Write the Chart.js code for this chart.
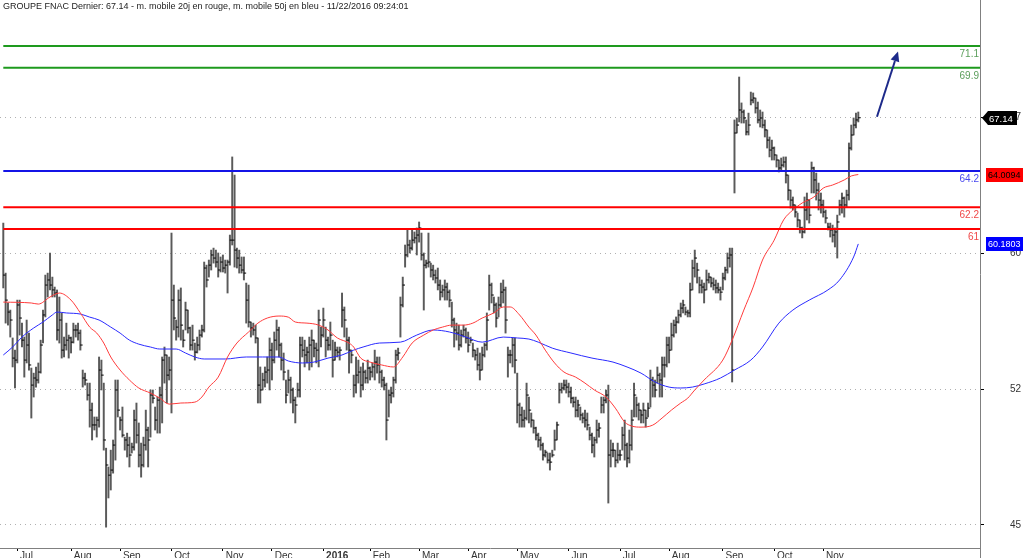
<!DOCTYPE html>
<html>
<head>
<meta charset="utf-8">
<script src="https://cdn.jsdelivr.net/npm/chart.js@4.4.0/dist/chart.umd.min.js"></script>
<style>
  html, body { margin: 0; padding: 0; background: #fff; }
  #wrap { width: 1024px; height: 558px; }
</style>
</head>
<body>
<div id="wrap"><canvas id="myChart" width="1024" height="558"></canvas></div>
<script>
// GROUPE FNAC daily bars, 23 Jun 2015 -> 22 Nov 2016 (x = trading day index)
const highs = [
  61.33,58.57,56.92,56.53,54.99,54.32,57.08,57.08,55.81,55.04,
  55.98,55.26,53.33,53.05,53.39,53.61,54.87,56.53,58.46,58.57,
  59.68,58.35,57.80,57.64,57.25,56.37,55.04,55.81,55.15,55.04,
  55.81,55.70,55.81,55.43,53.22,53.05,52.50,52.50,51.40,50.63,
  50.63,53.94,53.77,52.50,48.91,47.87,48.80,49.36,52.67,52.67,
  50.63,51.18,49.52,49.74,49.52,49.19,51.01,51.40,50.30,49.19,
  49.52,51.01,50.07,52.12,52.12,51.18,51.73,52.28,53.94,54.49,
  54.05,53.94,60.78,57.91,55.98,57.64,
  57.75,55.43,56.97,56.53,55.59,55.70,54.71,55.04,55.43,55.70,
  59.18,59.01,59.29,59.84,59.95,59.84,59.68,59.46,59.57,59.29,
  59.29,60.67,64.98,63.98,59.95,59.84,59.46,59.46,58.02,57.91,
  55.87,55.81,55.70,54.99,53.39,53.05,53.39,53.94,54.99,54.71,
  55.32,55.98,55.59,54.71,54.16,52.67,53.22,52.83,52.23,51.73,
  52.50,55.04,55.04,54.87,54.49,55.04,55.43,54.87,54.71,56.53,
  55.59,56.64,55.59,55.04,55.87,54.87,54.76,54.49,54.49,57.47,
  56.70,55.54,55.04,54.32,52.94,
  53.94,53.77,53.39,53.61,53.22,53.77,53.39,53.61,54.32,53.94,
  53.94,53.22,52.83,52.50,52.12,52.28,52.83,54.32,54.43,57.25,
  58.35,60.12,60.95,60.39,60.95,60.84,61.06,61.39,60.78,59.68,
  59.29,60.78,59.12,59.01,58.74,58.85,58.19,57.91,58.19,58.02,
  57.64,56.97,56.09,55.81,55.70,55.43,55.70,55.54,55.32,55.04,
  54.71,54.32,54.43,54.16,54.49,54.71,56.37,58.46,58.02,57.25,
  56.92,57.25,58.02,58.19,57.80,54.49,54.32,54.99,54.99,53.05,
  51.40,51.18,51.01,52.50,51.73,
  50.85,50.46,50.07,49.74,49.52,49.19,48.80,48.64,48.64,48.80,
  49.91,50.35,52.50,52.50,52.67,52.67,52.50,52.28,51.73,51.73,
  51.56,51.18,50.85,51.01,50.85,50.07,49.74,49.52,50.46,50.30,
  51.73,51.73,52.12,52.39,49.36,49.19,48.80,49.19,48.80,50.07,
  50.46,49.19,49.91,51.01,52.50,51.73,51.40,51.01,51.40,51.01,
  51.40,53.22,52.83,52.67,53.39,53.05,53.94,53.94,55.04,55.04,
  55.81,55.98,56.15,56.53,56.92,57.08,56.70,56.53,58.02,59.29,
  59.84,59.12,58.35,58.19,58.02,
  58.74,58.57,58.35,58.30,58.19,58.02,57.80,58.57,58.90,59.68,
  59.95,59.95,67.02,67.13,69.39,67.96,67.57,67.02,67.40,68.56,
  68.51,68.23,68.01,67.57,67.46,67.02,66.47,66.08,65.91,65.53,
  65.09,64.81,64.92,64.98,64.98,63.98,63.15,62.77,62.33,61.88,
  61.50,61.11,62.77,62.99,62.60,64.70,64.42,64.09,63.54,62.99,
  62.60,62.05,61.33,61.33,61.22,61.06,61.77,62.60,62.99,62.77,
  63.15,65.75,66.74,67.13,67.40,67.46
];
const lows = [
  57.75,55.81,55.70,55.04,53.39,52.23,53.61,55.15,54.49,52.83,
  53.61,53.22,50.57,51.73,52.28,52.50,53.05,54.71,56.15,57.25,
  57.64,57.25,57.25,54.87,54.71,53.88,53.94,54.32,53.88,54.16,
  54.71,55.04,54.87,54.32,52.28,52.39,51.56,50.07,49.36,49.91,
  49.52,50.07,52.12,48.80,44.55,46.16,46.60,47.53,48.25,50.63,
  49.91,49.52,48.80,48.42,47.87,48.64,48.80,49.19,47.87,47.31,
  47.87,48.80,47.87,49.52,51.40,49.91,49.74,49.74,50.30,52.50,
  51.40,52.67,50.85,55.43,54.87,55.04,
  54.87,54.49,55.43,55.26,54.32,54.32,53.77,54.16,54.32,55.04,
  55.32,57.80,58.35,58.74,59.12,58.90,58.35,58.63,58.63,58.57,
  57.47,59.01,60.12,58.90,58.85,58.57,58.57,58.19,55.81,55.59,
  55.04,55.15,54.71,51.40,51.40,52.12,52.28,52.50,52.12,52.67,
  53.61,54.32,53.94,53.22,52.67,51.40,51.95,51.40,50.85,50.30,
  51.73,51.73,53.94,53.39,53.61,53.22,53.39,53.94,53.61,53.39,
  54.49,55.04,53.94,54.32,54.32,52.83,53.77,53.94,53.77,55.59,
  55.04,54.32,53.05,53.61,51.73,
  51.95,52.50,51.73,52.12,52.50,52.50,52.67,52.83,52.67,53.05,
  52.50,52.28,52.12,49.36,50.63,51.40,51.73,52.50,53.77,55.04,
  56.70,58.90,59.46,59.68,59.84,60.23,59.57,60.28,59.29,56.53,
  58.85,58.90,58.35,58.19,58.02,57.64,57.08,57.25,57.08,57.08,
  56.70,55.59,54.49,54.87,54.32,54.49,55.04,54.71,54.21,54.71,
  53.94,53.77,53.22,52.67,53.22,53.94,54.32,56.53,56.92,56.37,
  55.59,56.15,56.70,56.92,55.26,52.83,53.61,53.39,53.05,50.30,
  50.07,50.07,50.07,50.46,50.30,
  50.07,49.74,49.36,48.97,48.80,48.25,48.42,48.09,47.70,48.42,
  48.80,49.36,51.40,51.95,52.12,51.95,51.73,51.40,51.18,50.63,
  50.63,50.46,50.30,50.07,49.91,49.36,48.64,48.42,49.19,49.52,
  50.85,50.85,51.40,45.88,47.87,48.42,47.87,48.09,48.25,48.80,
  48.25,47.87,48.09,48.80,50.63,50.63,50.46,50.30,50.30,50.07,
  50.63,51.18,51.73,51.73,52.50,51.73,51.73,52.83,53.39,53.61,
  54.32,55.04,55.26,55.81,56.15,56.37,56.26,56.15,56.15,57.64,
  58.35,58.02,57.47,57.47,56.92,
  57.64,58.02,57.80,57.64,57.47,57.47,57.08,57.64,58.19,58.57,
  58.90,52.56,62.99,66.30,66.91,66.85,66.85,66.19,66.19,67.85,
  67.96,67.40,66.85,66.63,66.58,66.08,65.47,64.98,64.81,64.81,
  64.42,64.15,64.26,64.42,63.54,62.60,62.16,62.05,61.66,61.11,
  60.78,60.51,60.78,61.50,61.33,62.99,62.99,62.60,62.05,61.88,
  61.66,61.33,60.95,60.56,60.28,60.01,59.40,61.77,61.88,61.66,
  62.22,62.60,65.36,66.19,66.58,66.91
];
const closes = [
  58.46,57.08,56.42,55.98,53.88,53.77,56.81,56.09,54.87,53.77,
  54.60,53.50,52.39,52.78,52.67,53.11,54.60,56.26,57.91,58.19,
  57.91,57.64,57.47,55.43,55.98,54.32,54.60,54.87,54.99,54.76,
  55.43,55.43,55.26,54.60,52.78,52.67,51.84,51.01,50.19,50.19,
  50.46,53.22,52.94,49.36,47.98,47.42,47.70,49.08,52.12,51.01,
  50.46,49.63,49.36,49.08,48.53,48.97,50.46,49.63,48.53,47.98,
  49.08,49.91,49.36,51.84,51.67,50.46,51.56,51.84,53.77,54.05,
  52.94,53.22,57.08,56.09,55.59,57.08,
  55.70,54.87,56.53,55.54,54.60,54.87,54.21,54.60,55.15,55.43,
  58.85,58.19,59.01,59.57,59.40,59.18,58.74,59.18,58.85,59.01,
  59.18,60.39,60.39,59.84,59.40,59.01,58.74,58.57,57.08,55.87,
  55.54,55.43,54.99,52.39,52.12,52.67,53.11,53.22,54.32,53.77,
  54.87,55.43,54.60,53.77,53.11,51.84,52.67,52.12,51.56,51.29,
  52.12,54.60,54.32,54.05,54.21,54.60,54.87,54.43,54.32,55.98,
  55.15,55.98,54.87,54.60,55.15,53.77,54.32,54.21,54.32,56.53,
  55.98,54.87,54.32,54.05,52.39,
  52.94,53.11,52.39,53.11,52.78,53.33,53.11,53.39,53.66,53.50,
  53.11,52.67,52.39,50.46,51.84,51.95,52.67,54.05,54.16,56.81,
  57.91,59.57,60.12,59.95,60.39,60.51,60.67,61.06,59.57,59.01,
  59.12,59.18,58.74,58.46,58.30,57.91,57.52,57.64,57.80,57.52,
  57.08,55.98,55.43,55.26,54.60,55.15,55.43,54.99,54.60,54.87,
  54.32,54.05,53.50,53.22,54.05,54.60,55.98,57.91,57.36,56.81,
  56.09,56.81,57.52,57.64,55.98,54.05,54.05,54.60,53.77,51.29,
  50.74,50.46,50.57,51.84,51.01,
  50.46,50.02,49.63,49.36,49.08,48.53,48.69,48.25,48.14,48.53,
  49.36,50.19,52.12,52.23,52.39,52.28,52.01,51.67,51.45,51.01,
  51.29,50.74,50.57,50.46,50.19,49.63,49.08,49.36,49.91,50.02,
  51.29,51.56,51.84,48.53,48.80,48.80,48.25,48.53,48.53,49.63,
  49.08,48.36,49.08,50.46,51.84,51.29,51.01,50.74,51.01,50.57,
  51.12,52.67,52.39,52.12,52.94,52.67,53.50,53.50,54.60,54.32,
  55.15,55.70,55.87,56.26,56.64,56.81,56.42,56.37,57.64,58.85,
  59.40,58.74,57.91,57.80,57.64,
  58.19,58.35,58.02,57.91,57.75,57.64,57.52,58.30,58.74,59.40,
  59.57,53.22,66.30,66.74,67.57,67.46,67.13,66.36,66.74,68.12,
  68.23,67.68,67.02,67.13,66.74,66.47,65.91,65.36,65.47,65.09,
  64.81,64.37,64.53,64.70,63.98,63.15,62.60,62.33,61.94,61.50,
  61.06,60.84,62.05,62.60,61.77,64.37,63.71,63.15,62.60,62.33,
  61.94,61.61,61.11,60.95,60.67,60.84,61.39,62.33,62.71,62.33,
  62.88,65.47,66.19,66.74,67.02,67.14
];

// moving averages (day index, value)
const ma20Days = [0,12,15,20,24,29,33,37,40,43,46,50,54,58,63,67,71,76,82,85,88,92,96,100,105,109,113,118,122,125,130,135,139,143,148,150,153,157,162,167,171,175,180,184,188,192,197,201,205,210,214,217,221,225,228,232,236,240,245,249,253,258,262,266,269,273,278,282,286,290,293,296,300,308,312,317,321,325,330,334,338,342,347,351,355,360,363,366];
const ma20 = [56.97,56.92,56.86,57.25,57.47,57.08,56.37,55.59,55.26,54.71,53.94,53.22,52.67,52.23,51.95,51.67,51.34,51.40,51.45,51.73,52.28,52.83,53.94,54.71,55.32,55.81,56.09,56.20,56.14,55.87,55.81,55.70,55.43,54.99,54.71,54.49,53.88,53.66,53.50,53.39,53.94,54.71,55.15,55.43,55.59,55.70,55.70,55.81,56.09,56.37,56.70,56.70,56.26,55.59,55.15,54.32,53.61,53.11,52.83,52.50,52.12,51.73,51.12,50.35,50.13,50.07,50.18,50.57,51.01,51.40,51.67,52.12,52.67,53.77,54.87,56.53,57.80,59.29,60.39,61.50,62.05,62.44,62.77,63.26,63.43,63.71,63.93,64.0094];
const ma50Days = [0,4,8,13,17,21,23,27,33,37,41,46,50,54,58,63,67,74,78,82,86,95,104,111,118,122,128,133,139,145,150,154,161,170,177,184,191,198,205,214,220,225,229,235,243,252,261,267,273,279,285,290,295,300,307,313,320,325,332,338,345,353,358,364,366];
const ma50 = [54.05,54.49,55.04,55.54,55.87,56.26,56.42,56.37,56.31,56.14,55.98,55.59,55.26,54.87,54.65,54.49,54.38,54.38,54.16,53.94,53.83,53.83,53.94,53.94,53.94,53.72,53.61,53.66,53.88,54.05,54.32,54.49,54.71,54.76,55.15,55.43,55.32,55.04,54.76,55.04,54.99,54.93,54.76,54.43,54.16,53.88,53.66,53.39,53.05,52.56,52.28,52.23,52.28,52.45,52.78,53.22,53.77,54.49,55.81,56.53,57.08,57.64,58.19,59.46,60.1803];

// horizontal levels drawn on the chart
const levels = [71.1, 69.9, 64.2, 62.2, 61];
const levelLabels = ['71.1', '69.9', '64.2', '62.2', '61'];

// x axis: first trading day of each month
const monthDays = [6, 29, 50, 72, 94, 115, 137, 157, 178, 199, 220, 242, 264, 285, 308, 330, 351];
const monthLabels = ['Jul', 'Aug', 'Sep', 'Oct', 'Nov', 'Dec', '2016', 'Feb', 'Mar', 'Apr', 'May', 'Jun', 'Jul', 'Aug', 'Sep', 'Oct', 'Nov'];

// price axis ticks (7.5 apart, labels rounded)
const priceTicks = [44.67, 52.17, 59.67, 67.17];

// hand drawn arrow (day, price)
const arrowDays = [374, 383];
const arrowPrices = [67.2, 70.8];

const FONT = '"Liberation Sans", Arial, sans-serif';
const TITLE = 'GROUPE FNAC Dernier: ' + closes[closes.length - 1].toFixed(2) +
  ' - m. mobile 20j en rouge, m. mobile 50j en bleu - 11/22/2016 09:24:01';
const levelColors = ['#1e9a1e', '#1e9a1e', '#1414e6', '#ff0000', '#ff0000'];
const levelTextColors = ['#5a9e5a', '#5a9e5a', '#4848f0', '#f04848', '#f04848'];
const X_MIN = -1.41, X_MAX = 418.1;

Chart.defaults.font.family = FONT;
Chart.defaults.font.size = 10;
Chart.defaults.color = '#333';

const decor = {
  id: 'decor',
  afterDatasetsDraw(chart) {
    const { ctx, scales: { x, y } } = chart;
    ctx.save();
    // level labels
    ctx.font = '10px ' + FONT;
    ctx.textAlign = 'right';
    ctx.textBaseline = 'top';
    levels.forEach((v, k) => {
      ctx.fillStyle = levelTextColors[k];
      ctx.fillText(levelLabels[k], x.right - 1, y.getPixelForValue(v) + 3);
    });
    // arrow
    const x1 = x.getPixelForValue(arrowDays[0]), y1 = y.getPixelForValue(arrowPrices[0]);
    const x2 = x.getPixelForValue(arrowDays[1]), y2 = y.getPixelForValue(arrowPrices[1]);
    const a = Math.atan2(y2 - y1, x2 - x1);
    const hx = x2 - 10 * Math.cos(a), hy = y2 - 10 * Math.sin(a);
    ctx.strokeStyle = '#1d2a8a';
    ctx.fillStyle = '#1d2a8a';
    ctx.lineWidth = 2;
    ctx.beginPath(); ctx.moveTo(x1, y1); ctx.lineTo(hx, hy); ctx.stroke();
    ctx.beginPath();
    ctx.moveTo(x2, y2);
    ctx.lineTo(hx + 4.5 * Math.sin(a), hy - 4.5 * Math.cos(a));
    ctx.lineTo(hx - 4.5 * Math.sin(a), hy + 4.5 * Math.cos(a));
    ctx.closePath(); ctx.fill();
    ctx.restore();
  },
  afterDraw(chart) {
    const { ctx, scales: { x, y } } = chart;
    const ax = x.right;
    ctx.save();
    // title
    ctx.font = '9px ' + FONT;
    ctx.fillStyle = '#222';
    ctx.textAlign = 'left';
    ctx.textBaseline = 'top';
    ctx.fillText(TITLE, 3, 2);
    // axis line continues below the x axis
    ctx.strokeStyle = '#808080';
    ctx.lineWidth = 1;
    ctx.beginPath(); ctx.moveTo(ax + 0.5, y.bottom); ctx.lineTo(ax + 0.5, chart.height); ctx.stroke();

    ctx.font = '9.5px ' + FONT;
    ctx.textBaseline = 'middle';
    // last price tag
    let yc = Math.round(y.getPixelForValue(closes[closes.length - 1]));
    ctx.fillStyle = '#000';
    ctx.beginPath();
    ctx.moveTo(ax + 2, yc); ctx.lineTo(ax + 8, yc - 7); ctx.lineTo(ax + 37, yc - 7);
    ctx.lineTo(ax + 37, yc + 7); ctx.lineTo(ax + 8, yc + 7); ctx.closePath(); ctx.fill();
    ctx.fillStyle = '#fff';
    ctx.fillText(closes[closes.length - 1].toFixed(2), ax + 9, yc + 1);
    // MA tags
    ctx.font = '9px ' + FONT;
    yc = Math.round(y.getPixelForValue(ma20[ma20.length - 1]));
    ctx.fillStyle = '#ff0000';
    ctx.fillRect(ax + 6, yc - 7, 37, 14);
    ctx.fillStyle = '#000';
    ctx.fillText(ma20[ma20.length - 1].toFixed(4), ax + 8, yc + 1);
    yc = Math.round(y.getPixelForValue(ma50[ma50.length - 1]));
    ctx.fillStyle = '#0000ff';
    ctx.fillRect(ax + 6, yc - 7, 37, 14);
    ctx.fillStyle = '#fff';
    ctx.fillText(ma50[ma50.length - 1].toFixed(4), ax + 8, yc + 1);
    ctx.restore();
  }
};

const datasets = [];
levels.forEach((v, k) => {
  datasets.push({
    type: 'line',
    data: [{ x: 0, y: v }, { x: X_MAX, y: v }],
    borderColor: levelColors[k],
    borderWidth: 2,
    pointRadius: 0,
    order: 1
  });
});
datasets.push({
  type: 'line',
  data: ma20Days.map((d, i) => ({ x: d, y: ma20[i] })),
  borderColor: '#ff3b3b',
  borderWidth: 1,
  pointRadius: 0,
  cubicInterpolationMode: 'monotone',
  order: 3
});
datasets.push({
  type: 'line',
  data: ma50Days.map((d, i) => ({ x: d, y: ma50[i] })),
  borderColor: '#2a2aff',
  borderWidth: 1,
  pointRadius: 0,
  cubicInterpolationMode: 'monotone',
  order: 3
});
datasets.push({
  type: 'line',
  data: closes.map((c, i) => ({ x: i + 0.45, y: c })),
  showLine: false,
  pointStyle: 'line',
  pointRadius: 1.2,
  pointBorderWidth: 1,
  pointBorderColor: '#000',
  order: 5
});
datasets.push({
  type: 'bar',
  data: highs.map((h, i) => ({ x: i, y: [lows[i], h] })),
  backgroundColor: '#5a5a5a',
  borderWidth: 0,
  barThickness: 1.3,
  order: 6
});

new Chart(document.getElementById('myChart'), {
  type: 'bar',
  data: { datasets: datasets },
  options: {
    responsive: false,
    animation: false,
    events: [],
    layout: { padding: { left: 0, top: 0, right: 3, bottom: 0 }, autoPadding: false },
    plugins: { legend: { display: false }, tooltip: { enabled: false } },
    scales: {
      x: {
        type: 'linear',
        min: X_MIN,
        max: X_MAX,
        bounds: 'data',
        offset: false,
        afterBuildTicks: s => { s.ticks = monthDays.map(d => ({ value: d })); },
        afterFit: s => { s.height = 10; s.paddingLeft = 0; s.paddingRight = 0; },
        grid: { drawOnChartArea: false, offset: false, tickLength: 3, tickColor: '#000' },
        border: { color: '#808080' },
        ticks: {
          autoSkip: false,
          maxRotation: 0,
          align: 'start',
          padding: -1,
          color: '#333',
          callback: (v, i) => ' ' + monthLabels[i],
          font: c => ({ size: 10, weight: monthLabels[c.index] === '2016' ? 'bold' : 'normal' })
        }
      },
      y: {
        position: 'right',
        min: 43.4,
        max: 73.64,
        bounds: 'data',
        afterBuildTicks: s => { s.ticks = priceTicks.map(v => ({ value: v })); },
        afterFit: s => { s.width = 41; s.paddingTop = 0; s.paddingBottom = 0; },
        grid: { color: '#b0b0b0', tickLength: 4, tickColor: '#000', tickBorderDash: [] },
        border: { color: '#808080', dash: [1, 4] },
        ticks: {
          crossAlign: 'far',
          padding: 0,
          color: '#333',
          callback: v => String(Math.round(v))
        }
      }
    }
  },
  plugins: [decor]
});
</script>
</body>
</html>
